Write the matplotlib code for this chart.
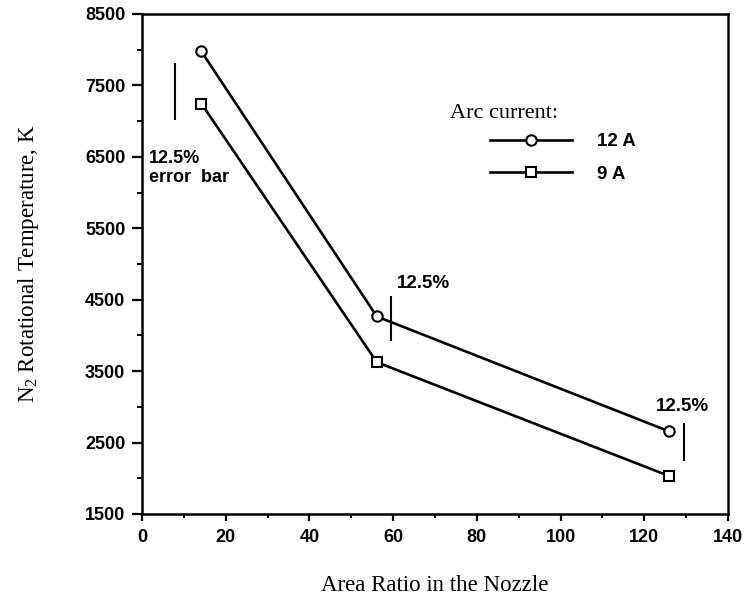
import numpy as np
import matplotlib
matplotlib.use("Agg")
import matplotlib.pyplot as plt
from matplotlib.ticker import MultipleLocator

# data
area_ratio = [14.2, 56.1, 126.0]
temp_12a = [7975, 4265, 2655]
temp_9a = [7245, 3625, 2030]

# 12.5% error bars (x, low, high)
err_x = [7.9, 59.6, 129.4]
err_lo = [7010, 3920, 2240]
err_hi = [7820, 4545, 2775]

plt.rcParams['mathtext.fontset'] = 'custom'
plt.rcParams['mathtext.rm'] = 'Liberation Serif'
plt.rcParams['mathtext.it'] = 'Liberation Serif'
plt.rcParams['mathtext.default'] = 'rm'

serif = 'Liberation Serif'
sans = 'Liberation Sans'

fig = plt.figure(figsize=(7.48, 6.0), dpi=100)
ax = fig.add_axes([142 / 748, 1 - 514 / 600, 586 / 748, 500 / 600])

ax.plot(area_ratio, temp_12a, color='black', lw=1.9, marker='o', ms=7.5,
        mfc='white', mec='black', mew=1.5, label='12 A')
ax.plot(area_ratio, temp_9a, color='black', lw=1.9, marker='s', ms=7.5,
        mfc='white', mec='black', mew=1.5, label='9 A')
ax.vlines(err_x, err_lo, err_hi, color='black', lw=1.5)

ax.text(1.7, 6346, '12.5%\nerror  bar', family=sans, fontweight='bold',
        fontsize=13, va='center', ha='left', linespacing=1.2)
ax.text(60.9, 4729, '12.5%', family=sans, fontweight='bold', fontsize=13.5,
        va='center', ha='left')
ax.text(129.2, 3010, '12.5%', family=sans, fontweight='bold', fontsize=13.5,
        va='center', ha='center')

ax.set_xlim(0, 140)
ax.set_ylim(1500, 8500)
ax.xaxis.set_major_locator(MultipleLocator(20))
ax.xaxis.set_minor_locator(MultipleLocator(10))
ax.yaxis.set_major_locator(MultipleLocator(1000, offset=500))
ax.yaxis.set_minor_locator(MultipleLocator(1000))

for s in ax.spines.values():
    s.set_linewidth(1.8)

ax.tick_params(axis='x', which='major', direction='out', length=5, width=1.6, pad=6)
ax.tick_params(axis='x', which='minor', direction='out', length=3, width=1.4)
ax.tick_params(axis='y', which='major', direction='out', length=7, width=1.6, pad=5)
ax.tick_params(axis='y', which='minor', direction='out', length=3.5, width=1.4)

for lab in ax.get_xticklabels() + ax.get_yticklabels():
    lab.set_family(sans)
    lab.set_fontweight('bold')
    lab.set_fontsize(13)

ax.set_xlabel('Area Ratio in the Nozzle', family=serif, fontsize=16.5, labelpad=21)
ax.set_ylabel('N$_2$ Rotational Temperature, K', family=serif, fontsize=16.5, labelpad=32)

leg = ax.legend(loc='center left', bbox_to_anchor=(0.594, 0.712), frameon=False,
                borderpad=0, borderaxespad=0, handlelength=4.37, handletextpad=1.33,
                labelspacing=0.82, numpoints=1,
                prop={'family': sans, 'weight': 'bold', 'size': 13.5})
ax.text(0.5256, 0.802, 'Arc current:', transform=ax.transAxes, family=serif,
        fontsize=16, va='center', ha='left')

fig.savefig('out.png', dpi=100)
